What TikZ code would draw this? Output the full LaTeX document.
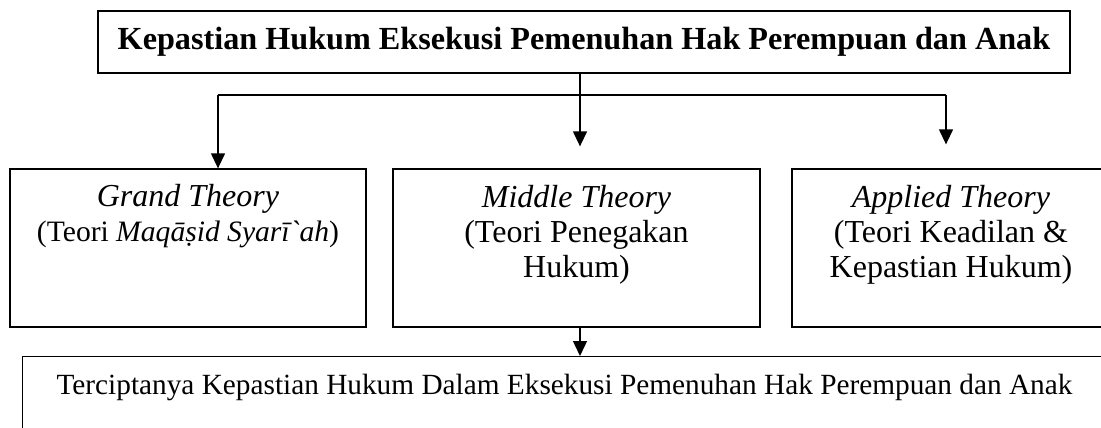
\documentclass[tikz,border=0pt]{standalone}
\usepackage{fontspec}
\setmainfont{Liberation Serif}
\usetikzlibrary{arrows.meta,positioning}

\tikzset{
  kotak/.style={draw, line width=1.3pt, inner sep=0pt},
  isi/.style={align=center, inner sep=0pt, font=\fontsize{32}{35}\selectfont},
  panah/.style={line width=1.3pt, -{Triangle[length=15pt,width=14pt]}}
}

\begin{document}
\begin{tikzpicture}[x=1pt,y=1pt,yscale=-1,xscale=1]
\useasboundingbox (0,0) rectangle (1101,428);
\clip (0,0) rectangle (1101,428);

% Judul
\node [kotak, minimum width=972pt, minimum height=62pt, font=\fontsize{32.2}{36}\selectfont\bfseries] (judul) at (584,42)
{Kepastian Hukum Eksekusi Pemenuhan Hak Perempuan dan Anak};

% Kotak teori
\node [kotak, minimum width=356pt, minimum height=158pt] (grand) at (188,248) {};
\node [kotak, minimum width=367pt, minimum height=158pt] (middle) at (576.5,248) {};
\node [kotak, minimum width=340pt, minimum height=158pt] (applied) at (962,248) {};

% Teks teori
\node [isi, anchor=north] (tgrand) at (grand.north |- 0,184)
{\textit{Grand Theory}\\{\fontsize{29.6}{35}\selectfont(Teori \textit{Maqāṣid Syarī\textasciigrave ah})}};
\node [isi, anchor=north] (tmiddle) at (middle.north |- 0,185)
{\textit{Middle Theory}\\(Teori Penegakan\\Hukum)};
\node [isi, anchor=north] (tapplied) at (951,185)
{\textit{Applied Theory}\\(Teori Keadilan \&\\Kepastian Hukum)};

% Kotak hasil
\node [kotak, minimum width=1110pt, minimum height=120pt, anchor=north west] (hasil) at (22,356) {};
\node [isi, anchor=north, font=\fontsize{29.3}{34}\selectfont] (thasil) at (564.5,374)
{Terciptanya Kepastian Hukum Dalam Eksekusi Pemenuhan Hak Perempuan dan Anak};

% Percabangan
\coordinate (bagi) at (580,95);
\coordinate (kiri) at (218,95);
\coordinate (kanan) at (946,95);
\draw [line width=1.3pt] (judul.south -| bagi) -- (bagi);
\draw [line width=1.3pt] (kiri) -- (kanan);
\draw [panah] (kiri) -- (kiri |- grand.north);
\draw [panah, shorten >=22pt] (bagi) -- (bagi |- middle.north);
\draw [panah, shorten >=24pt] (kanan) -- (kanan |- applied.north);
\draw [panah] (middle.south -| bagi) -- (bagi |- hasil.north);

\end{tikzpicture}
\end{document}
